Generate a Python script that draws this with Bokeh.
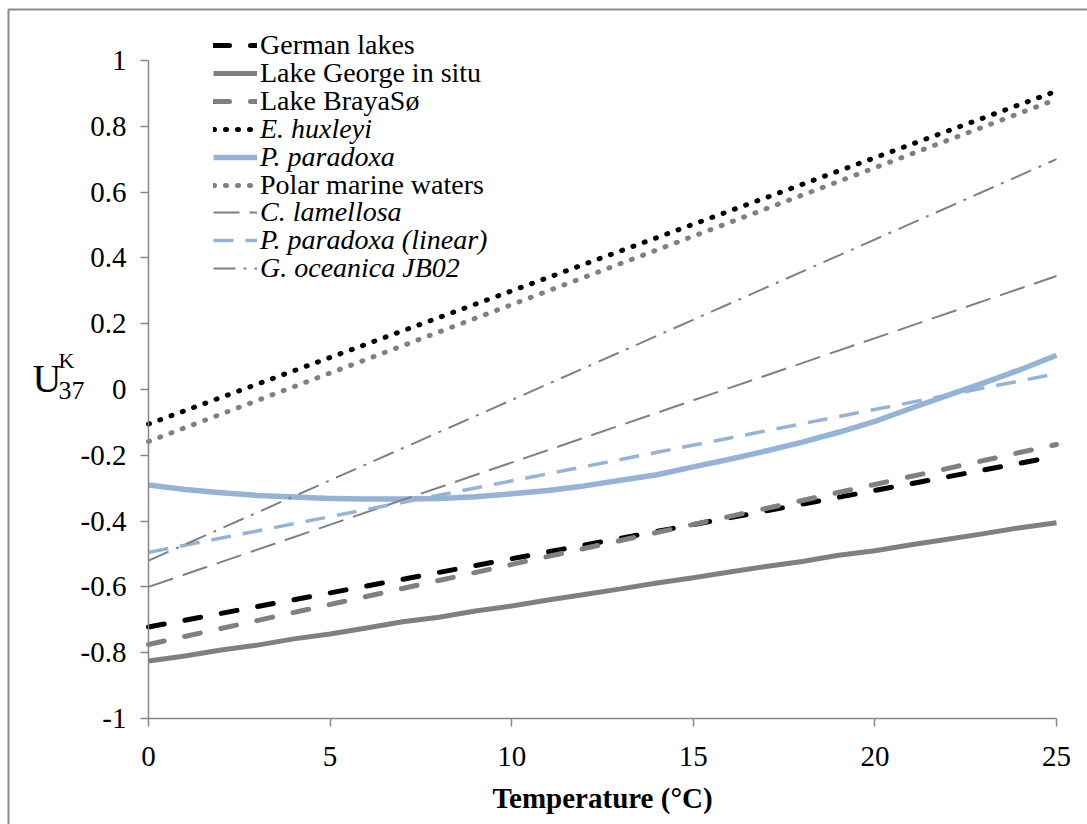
from bokeh.plotting import figure
from bokeh.models import (Range1d, FixedTicker, CustomJSTickFormatter, Legend,
                          LegendItem, Label, BoxAnnotation)
from bokeh.embed import file_html
from bokeh.resources import INLINE

# ---------------- data ----------------
temp_ends = [0, 25]
temp_steps = [0, 1, 2, 3, 4, 5, 6, 7, 8, 9, 10, 11, 12, 13, 14, 15, 16, 17,
              18, 19, 20, 21, 22, 23, 24, 25]

german_lakes = [-0.722, -0.203]
lake_george = [-0.825, -0.810, -0.792, -0.777, -0.758, -0.743, -0.725, -0.706,
               -0.692, -0.673, -0.658, -0.640, -0.623, -0.606, -0.588, -0.572,
               -0.555, -0.538, -0.523, -0.504, -0.490, -0.472, -0.455, -0.438,
               -0.420, -0.405]
lake_braya = [-0.775, -0.167]
e_huxleyi = [-0.105, 0.907]
p_paradoxa = [-0.290, -0.304, -0.314, -0.322, -0.327, -0.331, -0.333, -0.333,
              -0.331, -0.326, -0.317, -0.307, -0.293, -0.276, -0.259, -0.235,
              -0.212, -0.187, -0.160, -0.130, -0.097, -0.057, -0.018, 0.020,
              0.060, 0.104]
polar_marine = [-0.158, 0.882]
c_lamellosa = [-0.600, 0.345]
p_paradoxa_linear = [-0.495, 0.048]
g_oceanica = [-0.520, 0.700]

series_labels = ["German lakes", "Lake George in situ", "Lake BrayaSø",
                 "E. huxleyi", "P. paradoxa", "Polar marine waters",
                 "C. lamellosa", "P. paradoxa (linear)", "G. oceanica JB02"]

x_ticks = [0, 5, 10, 15, 20, 25]
y_ticks = [-1, -0.8, -0.6, -0.4, -0.2, 0, 0.2, 0.4, 0.6, 0.8, 1]
x_min, x_max = 0, 25
y_min, y_max = -1, 1

# ---------------- layout (pixels in the page) ----------------
W, H = 1087, 824
AX_L, AX_R, AX_T, AX_B = 148, 1056, 60, 718   # where the axes box sits
BORDER_L, BORDER_T = 8, 9                      # outer chart-area border

px_x = (AX_R - AX_L) / (x_max - x_min)
px_y = (AX_B - AX_T) / (y_max - y_min)

# the plotting frame covers the whole canvas; axes are pinned at x=0 / y=-1
p = figure(width=W, height=H,
           x_range=Range1d(x_min - AX_L / px_x, x_max + (W - AX_R) / px_x),
           y_range=Range1d(y_min - (H - AX_B) / px_y, y_max + AX_T / px_y),
           output_backend="svg", toolbar_location=None,
           min_border=0, min_border_left=0, min_border_right=0,
           min_border_top=0, min_border_bottom=0)
p.title.visible = False
p.outline_line_color = None
p.xgrid.visible = False
p.ygrid.visible = False
p.background_fill_color = "white"
p.border_fill_color = "white"

serif = "Liberation Serif"
axis_gray = "#868686"

xa, ya = p.xaxis[0], p.yaxis[0]
xa.fixed_location = y_min
ya.fixed_location = x_min
xa.bounds = (x_min, x_max)
ya.bounds = (y_min, y_max)

for ax in (xa, ya):
    ax.axis_line_color = axis_gray
    ax.axis_line_width = 1.5
    ax.major_tick_line_color = axis_gray
    ax.major_tick_line_width = 1.5
    ax.major_tick_out = 8
    ax.major_tick_in = 0
    ax.minor_tick_line_color = None
    ax.major_label_text_font = serif
    ax.major_label_text_font_size = "29px"
    ax.major_label_text_color = "black"

xa.ticker = FixedTicker(ticks=x_ticks)
ya.ticker = FixedTicker(ticks=y_ticks)
ya.formatter = CustomJSTickFormatter(
    code="return Number(tick.toFixed(1)).toString();")
xa.major_label_standoff = 20
ya.major_label_standoff = 14

xa.axis_label = "Temperature (°C)"
xa.axis_label_text_font = serif
xa.axis_label_text_font_size = "29px"
xa.axis_label_text_font_style = "bold"
xa.axis_label_text_color = "black"
xa.axis_label_standoff = 13

gray = "#808080"
blue = "#95B3D7"

r_german = p.line(temp_ends, german_lakes, line_color="black", line_width=5,
                  line_dash="16 21", line_cap="round")
r_george = p.line(temp_steps, lake_george, line_color=gray, line_width=5)
r_braya = p.line(temp_ends, lake_braya, line_color=gray, line_width=5,
                 line_dash="16 21", line_cap="round")
r_ehux = p.line(temp_ends, e_huxleyi, line_color="black", line_width=5,
                line_dash="1 11", line_cap="round")
r_ppar = p.line(temp_steps, p_paradoxa, line_color=blue, line_width=5.5,
                line_join="round")
r_polar = p.line(temp_ends, polar_marine, line_color=gray, line_width=5,
                 line_dash="1 11", line_cap="round")
r_clam = p.line(temp_ends, c_lamellosa, line_color=gray, line_width=2,
                line_dash="26 10")
r_pparlin = p.line(temp_ends, p_paradoxa_linear, line_color=blue,
                   line_width=3.5, line_dash="20 12")
r_goce = p.line(temp_ends, g_oceanica, line_color=gray, line_width=2,
                line_dash="22 8 3 8")

renderers = [r_german, r_george, r_braya, r_ehux, r_ppar, r_polar, r_clam,
             r_pparlin, r_goce]
italic = [False, False, False, True, True, False, True, True, True]

# one legend per row so that upright and italic labels can be mixed
row_h = 34
for i, (r, lab, it) in enumerate(zip(renderers, series_labels, italic)):
    yc = 45 + 27.9 * i  # row centre, px from top of the page
    leg = Legend(items=[LegendItem(label=lab, renderers=[r])],
                 location=(213, H - yc - row_h / 2),
                 padding=0, margin=0, spacing=0,
                 glyph_width=44, glyph_height=row_h, label_height=row_h,
                 label_standoff=3,
                 label_text_font=serif, label_text_font_size="28px",
                 label_text_font_style="italic" if it else "normal",
                 label_text_color="black",
                 border_line_alpha=0, background_fill_alpha=0)
    p.add_layout(leg, "center")

# y-axis title  U^K_37 (screen units: x from left, y from bottom of page)
def add_text(txt, x_px, baseline_px, size):
    p.add_layout(Label(x=x_px, y=H - baseline_px, x_units="screen", y_units="screen",
                       text=txt, text_font=serif, text_font_size=size,
                       text_baseline="alphabetic", text_align="left",
                       text_color="black"))

add_text("U", 32, 378, "40px")
add_text("K", 58, 360, "22px")
add_text("37", 58, 390, "26px")

# outer chart-area border (only its top and left edges fall inside the page)
p.add_layout(BoxAnnotation(left=x_min - (AX_L - BORDER_L) / px_x,
                           top=y_max + (AX_T - BORDER_T) / px_y,
                           right=x_max + (W + 20 - AX_R) / px_x,
                           bottom=y_min - (H + 20 - AX_B) / px_y,
                           fill_alpha=0, fill_color=None,
                           line_color="#8c8c8c", line_width=2, line_alpha=1.0,
                           level="overlay"))

open("out.html", "w").write(file_html(p, INLINE))
